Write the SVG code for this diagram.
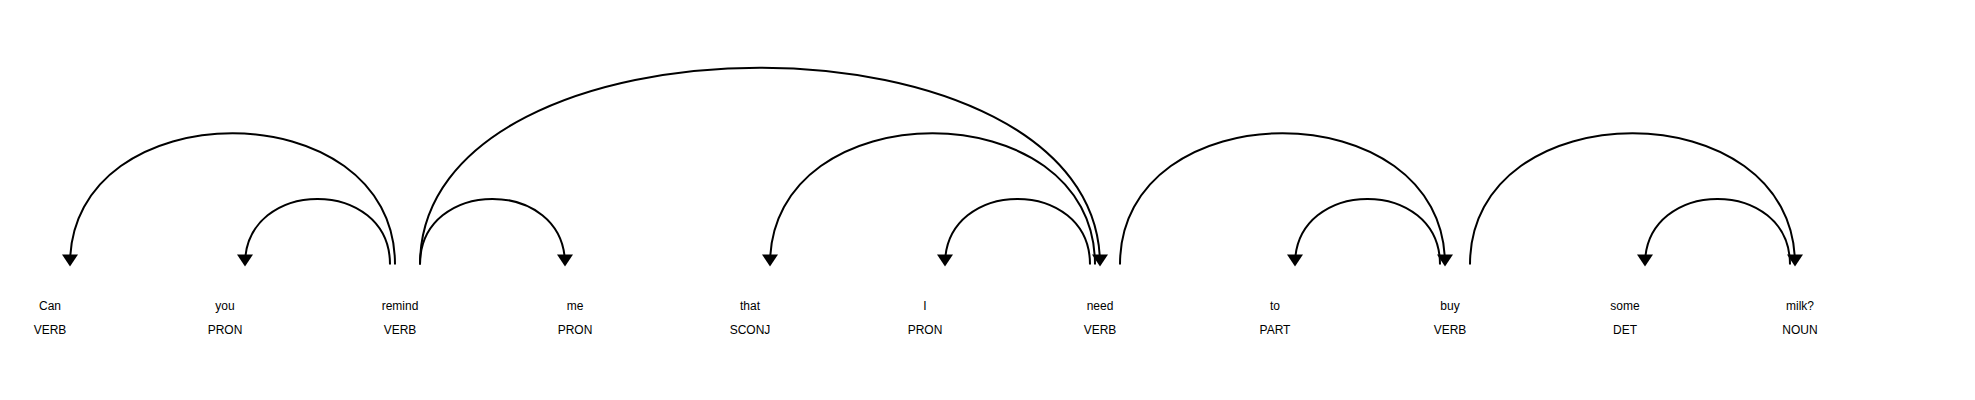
<svg xmlns="http://www.w3.org/2000/svg" width="1975" height="400" viewBox="0 0 1975 400">
<style>
.tok { font-family: "Liberation Sans", Arial, sans-serif; font-size: 12px; fill: #000000; text-anchor: middle; }
.arc { fill: none; stroke: #000000; stroke-width: 2; }
.head { fill: #000000; stroke: none; }
</style>
<rect x="0" y="0" width="1975" height="400" fill="#ffffff"/>
<g id="w0"><text class="tok" y="309.5"><tspan x="50">Can</tspan><tspan x="50" dy="2em">VERB</tspan></text></g>
<g id="w1"><text class="tok" y="309.5"><tspan x="225">you</tspan><tspan x="225" dy="2em">PRON</tspan></text></g>
<g id="w2"><text class="tok" y="309.5"><tspan x="400">remind</tspan><tspan x="400" dy="2em">VERB</tspan></text></g>
<g id="w3"><text class="tok" y="309.5"><tspan x="575">me</tspan><tspan x="575" dy="2em">PRON</tspan></text></g>
<g id="w4"><text class="tok" y="309.5"><tspan x="750">that</tspan><tspan x="750" dy="2em">SCONJ</tspan></text></g>
<g id="w5"><text class="tok" y="309.5"><tspan x="925">I</tspan><tspan x="925" dy="2em">PRON</tspan></text></g>
<g id="w6"><text class="tok" y="309.5"><tspan x="1100">need</tspan><tspan x="1100" dy="2em">VERB</tspan></text></g>
<g id="w7"><text class="tok" y="309.5"><tspan x="1275">to</tspan><tspan x="1275" dy="2em">PART</tspan></text></g>
<g id="w8"><text class="tok" y="309.5"><tspan x="1450">buy</tspan><tspan x="1450" dy="2em">VERB</tspan></text></g>
<g id="w9"><text class="tok" y="309.5"><tspan x="1625">some</tspan><tspan x="1625" dy="2em">DET</tspan></text></g>
<g id="w10"><text class="tok" y="309.5"><tspan x="1800">milk?</tspan><tspan x="1800" dy="2em">NOUN</tspan></text></g>
<g id="connectors">
<path class="arc" d="M70,264.5 C70,89.5 395,89.5 395,264.5"/>
<path class="head" d="M70,266.5 L62,254.5 78,254.5"/>
<path class="arc" d="M245,264.5 C245,177 390,177 390,264.5"/>
<path class="head" d="M245,266.5 L237,254.5 253,254.5"/>
<path class="arc" d="M420,264.5 C420,177 565,177 565,264.5"/>
<path class="head" d="M565,266.5 L557,254.5 573,254.5"/>
<path class="arc" d="M420,264.5 C420,2 1100,2 1100,264.5"/>
<path class="head" d="M1100,266.5 L1092,254.5 1108,254.5"/>
<path class="arc" d="M770,264.5 C770,89.5 1095,89.5 1095,264.5"/>
<path class="head" d="M770,266.5 L762,254.5 778,254.5"/>
<path class="arc" d="M945,264.5 C945,177 1090,177 1090,264.5"/>
<path class="head" d="M945,266.5 L937,254.5 953,254.5"/>
<path class="arc" d="M1120,264.5 C1120,89.5 1445,89.5 1445,264.5"/>
<path class="head" d="M1445,266.5 L1437,254.5 1453,254.5"/>
<path class="arc" d="M1295,264.5 C1295,177 1440,177 1440,264.5"/>
<path class="head" d="M1295,266.5 L1287,254.5 1303,254.5"/>
<path class="arc" d="M1470,264.5 C1470,89.5 1795,89.5 1795,264.5"/>
<path class="head" d="M1795,266.5 L1787,254.5 1803,254.5"/>
<path class="arc" d="M1645,264.5 C1645,177 1790,177 1790,264.5"/>
<path class="head" d="M1645,266.5 L1637,254.5 1653,254.5"/>
</g>
</svg>
